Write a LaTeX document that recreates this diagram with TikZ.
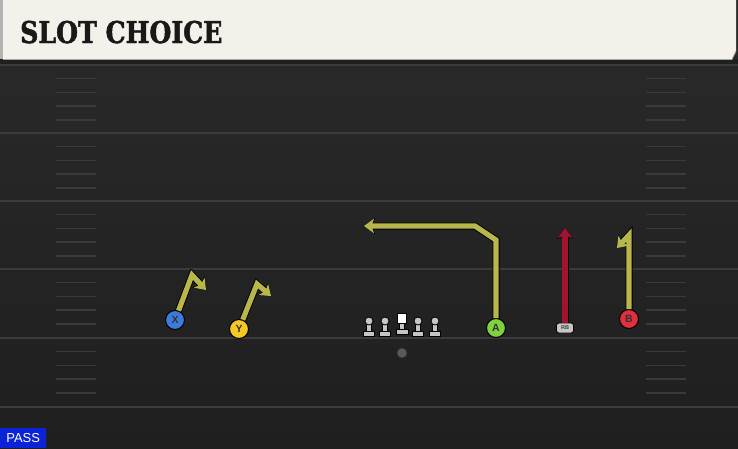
\documentclass[tikz,border=0pt]{standalone}
\usepackage{fontspec}
\setmainfont{Liberation Sans}
\newfontfamily\titlefont[FakeStretch=0.84,FakeBold=1.6]{DejaVu Serif Bold}
\usepackage{tikz}
\usetikzlibrary{calc}
\usetikzlibrary{arrows.meta}

\definecolor{fieldtop}{HTML}{2A2A2A}
\definecolor{fieldbot}{HTML}{1F1F1F}
\definecolor{yardc}{HTML}{3B3B3B}
\definecolor{hashc}{HTML}{3A3A3A}
\definecolor{cream}{HTML}{F4F1EA}
\definecolor{routey}{HTML}{B9B64C}
\definecolor{router}{HTML}{A5122F}
\definecolor{xblue}{HTML}{3D7BDB}
\definecolor{yyellow}{HTML}{F6C823}
\definecolor{agreen}{HTML}{7FD23F}
\definecolor{bred}{HTML}{E0303D}
\definecolor{linegrey}{HTML}{C6C6C6}
\definecolor{passblue}{HTML}{0A22D8}

\begin{document}
\begin{tikzpicture}[x=1pt,y=-1pt,
  yardn/.style={draw=yardc, line width=1.6pt},
  hashn/.style={draw=hashc, line width=1.4pt},
  playern/.style={circle, draw=black, line width=1pt, minimum size=19pt,
    inner sep=0pt, font=\bfseries\fontsize{10.5}{10.5}\selectfont, text=black!80},
  route/.style={draw=routey, line width=5.2pt,
    -{Stealth[length=10pt,width=14.5pt,inset=2.6pt]},
    preaction={draw=black, line width=7pt,
      -{Stealth[length=11pt,width=16.5pt,inset=2.9pt]}}},
  redroute/.style={route, draw=router},
  linemn/.style={fill=linegrey, draw=black, line width=.8pt},
  lineman/.pic={
    \filldraw[linemn] (-2.2,-4) rectangle (2.2,-11.5);
    \filldraw[linemn] (-5.5,0) rectangle (5.5,-4.5);
    \filldraw[linemn] (0,-15) circle (4);},
  centern/.pic={
    \filldraw[linemn] (-2.2,-4) rectangle (2.2,-11);
    \filldraw[linemn] (-6,0) rectangle (6,-4.5);
    \filldraw[linemn, fill=white] (-4.6,-11) rectangle (4.6,-20.5);}]
  \useasboundingbox (0,0) rectangle (738,448);
  % field
  \shade[top color=fieldtop, bottom color=fieldbot] (0,0) rectangle (738,448);
  \fill[black!88] (0,59) rectangle (738,65);
  \foreach \y in {65,133,201,269,338,407}
    \draw[yardn] (0,\y) -- (738,\y);
  \foreach \y in {65,133,201,269,338}
    \foreach \k in {1,...,4} {
      \draw[hashn] (56,{\y+\k*13.7}) -- (96,{\y+\k*13.7});
      \draw[hashn] (646,{\y+\k*13.7}) -- (686,{\y+\k*13.7});
    }
  % header
  \fill[gray!60] (0,0) rectangle (3,59);
  \fill[cream] (3,0) -- (736,0) -- (736,51) -- (732,59) -- (3,59) -- cycle;
  \draw[gray!70, line width=.8pt] (3,59.4) -- (732,59.4) -- (736,51);
  \node[anchor=base west, inner sep=0pt, text=black!90,
    font=\titlefont\fontsize{30}{30}\selectfont] (title) at (20,43) {SLOT CHOICE};
  % line
  \pic (lt) at (369,336) {lineman};
  \pic (lg) at (385,336) {lineman};
  \pic (c) at (402,334) {centern};
  \pic (rg) at (418,336) {lineman};
  \pic (rt) at (435,336) {lineman};
  \node[circle, fill=gray!70!black, draw=black!80, line width=.6pt,
    minimum size=10pt, inner sep=0pt] (qb) at (402,353) {};
  % players
  \node[playern, fill=xblue] (X) at (175,320) {X};
  \node[playern, fill=yyellow] (Y) at (239,329) {Y};
  \node[playern, fill=agreen] (A) at (496,328) {A};
  \node[playern, fill=bred] (B) at (629,319) {B};
  \node[draw=black, fill=linegrey, rounded corners=2.5pt, line width=.8pt,
    minimum width=17pt, minimum height=10pt, inner sep=0pt, text=black!75,
    font=\bfseries\fontsize{5.5}{5.5}\selectfont] (RB) at (565,328) {RB};
  % routes
  \coordinate (x1) at (192,275);
  \coordinate (x2) at (206,290);
  \coordinate (y1) at (257,284);
  \coordinate (y2) at (271,296);
  \coordinate (a1) at (496,240);
  \coordinate (a2) at (475,226);
  \coordinate (a3) at (364,226);
  \coordinate (r1) at (565,228);
  \coordinate (b1) at (629,235);
  \coordinate (b2) at (617,248);
  \draw[route] (X) -- (x1) -- (x2);
  \draw[route] (Y) -- (y1) -- (y2);
  \draw[route] (A) -- (a1) -- (a2) -- (a3);
  \draw[redroute] (RB) -- (r1);
  \draw[route] (B) -- (b1) -- (b2);
  % play type
  \node[fill=passblue, text=white, anchor=south west, minimum width=46pt,
    minimum height=20pt, inner sep=0pt, font=\fontsize{13}{13}\selectfont] (pass) at (0,448) {PASS};
\end{tikzpicture}
\end{document}
